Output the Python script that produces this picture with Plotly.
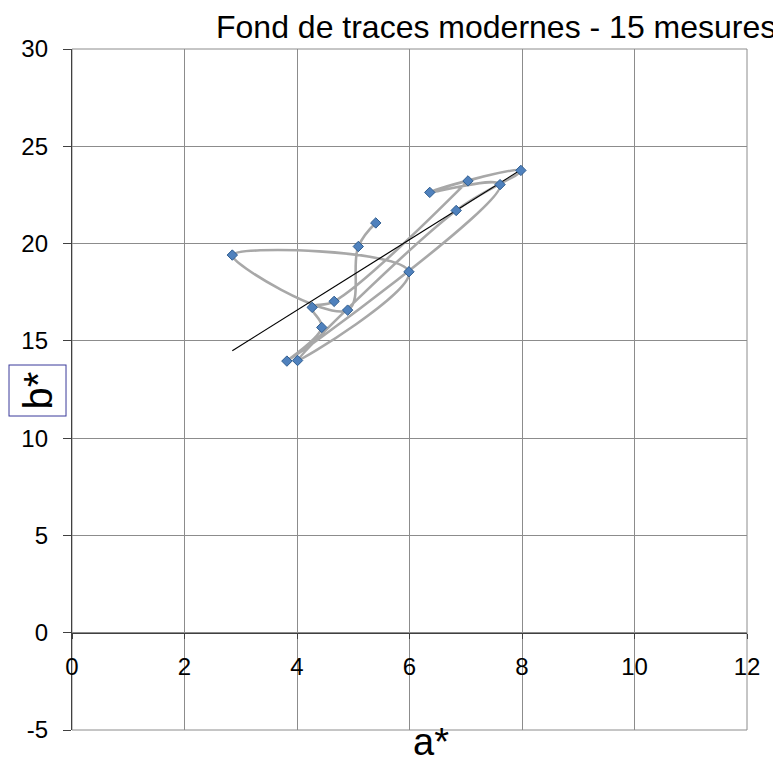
import numpy as np
import plotly.graph_objects as go

# Measurements (a*, b*) in acquisition order
a_vals = [5.40, 5.09, 4.90, 2.85, 5.99, 4.01, 6.83, 7.98, 6.36, 7.61, 3.82, 4.44, 4.27, 4.66, 7.04]
b_vals = [21.06, 19.85, 16.58, 19.41, 18.55, 13.99, 21.70, 23.76, 22.63, 23.03, 13.96, 15.69, 16.72, 17.03, 23.22]

x_ticks = [0, 2, 4, 6, 8, 10, 12]
y_ticks = [-5, 0, 5, 10, 15, 20, 25, 30]

title_text = "Fond de traces modernes - 15 mesures"
x_title = "a*"
y_title = "b*"

# Linear trend line computed from the data
slope, intercept = np.polyfit(a_vals, b_vals, 1)
tx = [min(a_vals), max(a_vals)]
ty = [slope * v + intercept for v in tx]

fig = go.Figure()
fig.add_trace(go.Scatter(
    x=a_vals, y=b_vals, mode="lines",
    line=dict(color="#A8A8A8", width=2.6, shape="spline", smoothing=1.1),
    hoverinfo="skip", showlegend=False))
fig.add_trace(go.Scatter(
    x=tx, y=ty, mode="lines",
    line=dict(color="#000000", width=1.2),
    hoverinfo="skip", showlegend=False))
fig.add_trace(go.Scatter(
    x=a_vals, y=b_vals, mode="markers",
    marker=dict(symbol="diamond", size=8, color="#4F81BD",
                line=dict(color="#2F5D8F", width=1)),
    showlegend=False))

font_family = "Liberation Sans, Arial, sans-serif"

fig.update_layout(
    width=773, height=757,
    margin=dict(l=64, r=34, t=41, b=35),
    paper_bgcolor="white", plot_bgcolor="white",
    font=dict(family=font_family, color="#000000"),
    xaxis=dict(
        range=[0, 12], tickvals=x_ticks, ticktext=[str(v) for v in x_ticks],
        showgrid=True, gridcolor="#8C8C8C", gridwidth=1,
        zeroline=False,
        anchor="free", position=5 / 35,
        showline=True, linecolor="#404040", linewidth=1.3,
        ticks="outside", ticklen=5, tickcolor="#404040",
        ticklabelstandoff=7,
        tickfont=dict(size=24, family=font_family),
    ),
    yaxis=dict(
        range=[-5, 30], tickvals=y_ticks, ticktext=[str(v) for v in y_ticks],
        showgrid=True, gridcolor="#8C8C8C", gridwidth=1,
        zeroline=False,
        showline=True, linecolor="#404040", linewidth=1.3,
        ticks="outside", ticklen=8, tickcolor="#404040",
        ticklabelstandoff=10,
        tickfont=dict(size=24, family=font_family),
    ),
    shapes=[dict(type="rect", xref="paper", yref="paper", x0=0, x1=1, y0=0, y1=1,
                 line=dict(color="#8C8C8C", width=1), layer="below")],
    annotations=[
        dict(text=title_text, xref="paper", yref="paper", x=1.0459, y=1.032,
             xanchor="right", yanchor="middle", showarrow=False,
             font=dict(size=32, family=font_family)),
        dict(text=x_title, xref="paper", yref="paper", x=0.532, y=-0.0514,
             xanchor="center", yanchor="bottom", showarrow=False,
             font=dict(size=38, family=font_family)),
        dict(text=y_title, xref="paper", yref="paper", x=-0.0511, y=0.4978,
             xanchor="center", yanchor="middle", showarrow=False, textangle=-90,
             bordercolor="#3A3A9A", borderwidth=1, borderpad=6, bgcolor="white",
             font=dict(size=40, family=font_family)),
    ],
)

fig.write_html("out.html")
